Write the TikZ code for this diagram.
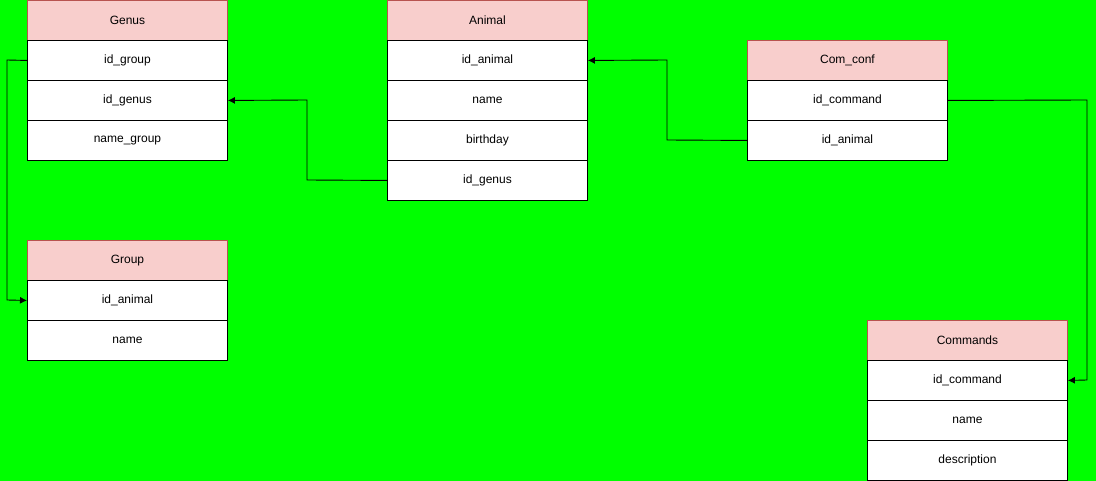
\documentclass[tikz,border=0pt]{standalone}
\usepackage{fontspec}
\setmainfont{Liberation Sans}
\usetikzlibrary{arrows.meta,positioning}
\definecolor{bg}{HTML}{00FF00}
\definecolor{hdfill}{HTML}{F8CECC}
\definecolor{hdline}{HTML}{B85450}
\tikzset{
  hdr/.style={draw=hdline, fill=hdfill, minimum width=200pt, minimum height=40pt, inner sep=0pt, font=\fontsize{12}{14}\selectfont, line width=0.9pt, anchor=north west},
  rowbox/.style={draw=black, fill=white, minimum width=200pt, minimum height=40pt, inner sep=0pt, font=\fontsize{12}{14}\selectfont, line width=0.9pt, anchor=north west},
  conn/.style={draw=black, line width=0.9pt, line join=miter, -{Latex[length=7pt,width=7pt]}}
}
\begin{document}
\begin{tikzpicture}[x=1pt,y=-1pt]
\fill[bg] (0,0) rectangle (1096,481);
\useasboundingbox (0,0) rectangle (1096,481);
% Genus
\node[hdr] (genus) at (27,0) {Genus};
\node[rowbox] (genus1) at (27,40) {id\_group};
\node[rowbox] (genus2) at (27,80) {id\_genus};
\node[rowbox] (genus3) at (27,120) {name\_group};
% Animal
\node[hdr] (animal) at (387,0) {Animal};
\node[rowbox] (animal1) at (387,40) {id\_animal};
\node[rowbox] (animal2) at (387,80) {name};
\node[rowbox] (animal3) at (387,120) {birthday};
\node[rowbox] (animal4) at (387,160) {id\_genus};
% Com_conf
\node[hdr] (comconf) at (747,40) {Com\_conf};
\node[rowbox] (comconf1) at (747,80) {id\_command};
\node[rowbox] (comconf2) at (747,120) {id\_animal};
% Group
\node[hdr] (group) at (27,240) {Group};
\node[rowbox] (group1) at (27,280) {id\_animal};
\node[rowbox] (group2) at (27,320) {name};
% Commands
\node[hdr] (commands) at (867,320) {Commands};
\node[rowbox] (commands1) at (867,360) {id\_command};
\node[rowbox] (commands2) at (867,400) {name};
\node[rowbox] (commands3) at (867,440) {description};
% connectors
\coordinate (c1) at (7,60);
\coordinate (c2) at (7,300);
\draw[conn] (genus1.west) -- (c1) -- (c2) -- (group1.west);
\coordinate (c3) at (307,180);
\coordinate (c4) at (307,100);
\draw[conn] (animal4.west) -- (c3) -- (c4) -- (genus2.east);
\coordinate (c5) at (667,140);
\coordinate (c6) at (667,60);
\draw[conn] (comconf2.west) -- (c5) -- (c6) -- (animal1.east);
\coordinate (c7) at (1087,100);
\coordinate (c8) at (1087,380);
\draw[conn] (comconf1.east) -- (c7) -- (c8) -- (commands1.east);
\end{tikzpicture}
\end{document}
